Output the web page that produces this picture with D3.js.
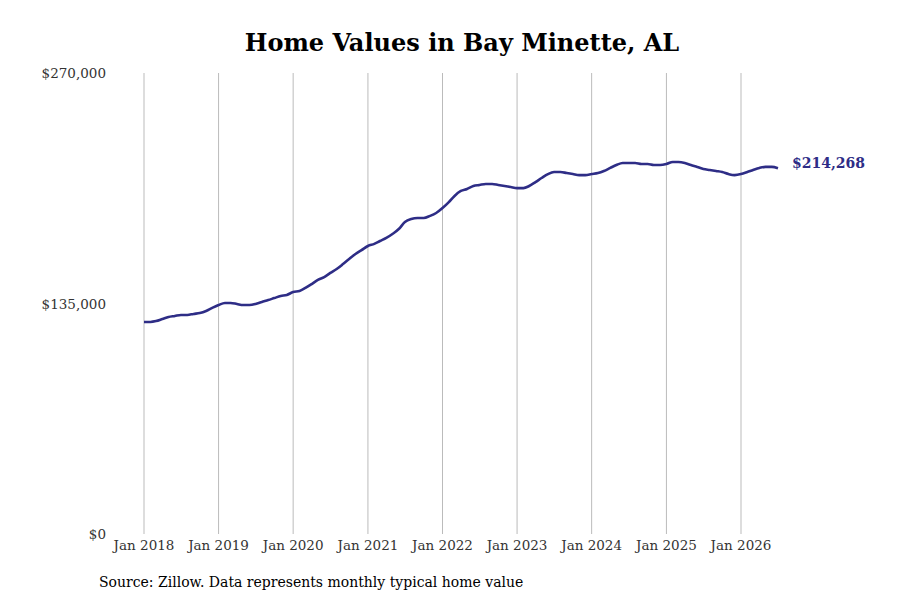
<!DOCTYPE html>
<html><head><meta charset="utf-8">
<script src="https://cdn.jsdelivr.net/npm/d3@7"></script>
<style>body{margin:0;background:#fff}svg{font-family:"DejaVu Serif",serif}</style>
</head><body><svg id="c" width="900" height="600"></svg>
<script>
const startYear = 2018;
const values = [
124200,124200,124700,125900,127100,127700,128300,128300,128900,129400,130600,132400,
134100,135300,135300,134700,134100,134100,134700,135900,137000,138200,139400,140000,
141700,142300,144100,146400,148800,150500,152900,155200,158100,161100,164000,166300,
168700,169900,171600,173400,175700,178600,182700,184500,185100,185100,186300,188000,
190900,194400,198000,200900,202100,203800,204400,205000,205000,204400,203800,203200,
202600,202600,203800,206100,208500,210800,212000,212000,211400,210800,210200,210200,
210800,211400,212600,214400,216100,217300,217300,217300,216700,216700,216100,216100,
216700,217900,217900,217300,216100,215000,213800,213200,212600,212000,210800,210200,
210800,212000,213200,214400,215000,215000,214268];
const xTickYears = [2018,2019,2020,2021,2022,2023,2024,2025,2026];
const yTicks = [0,135000,270000];
const data = values.map((v,i)=>({d:new Date(startYear+Math.floor(i/12), i%12, 1), v}));
const svg = d3.select("#c");
const x = d3.scaleTime().domain([new Date(2018,0,1), new Date(2026,0,1)]).range([144,741]);
const y = d3.scaleLinear().domain([0,270000]).range([534,73]);
svg.append("text").attr("x",462).attr("y",51).attr("text-anchor","middle")
  .attr("font-size",24).attr("font-weight","bold").text("Home Values in Bay Minette, AL");
const xt = xTickYears.map(yr=>new Date(yr,0,1));
svg.append("g").selectAll("line").data(xt).join("line")
  .attr("x1",d=>x(d)).attr("x2",d=>x(d)).attr("y1",73).attr("y2",534)
  .attr("stroke","#bbb").attr("stroke-width",1);
svg.append("g").selectAll("text").data(xt).join("text")
  .attr("x",d=>x(d)).attr("y",550).attr("text-anchor","middle").attr("font-size",13.5)
  .attr("fill","#333").text(d=>"Jan "+d.getFullYear());
svg.append("g").selectAll("text").data(yTicks).join("text")
  .attr("x",106).attr("y",d=>y(d)+5).attr("text-anchor","end").attr("font-size",13.5)
  .attr("fill","#333").text(d=>"$"+d3.format(",")(d));
svg.append("path").datum(data).attr("fill","none").attr("stroke","#2e2d86").attr("stroke-width",2.6)
  .attr("d",d3.line().x(d=>x(d.d)).y(d=>y(d.v)).curve(d3.curveMonotoneX));
const last = data[data.length-1];
svg.append("text").attr("x",x(last.d)+14).attr("y",y(last.v)+0).attr("font-size",14)
  .attr("font-weight","bold").attr("fill","#2e2d86").text("$"+d3.format(",")(last.v));
svg.append("text").attr("x",99).attr("y",587).attr("font-size",14).text("Source: Zillow. Data represents monthly typical home value");
</script></body></html>
